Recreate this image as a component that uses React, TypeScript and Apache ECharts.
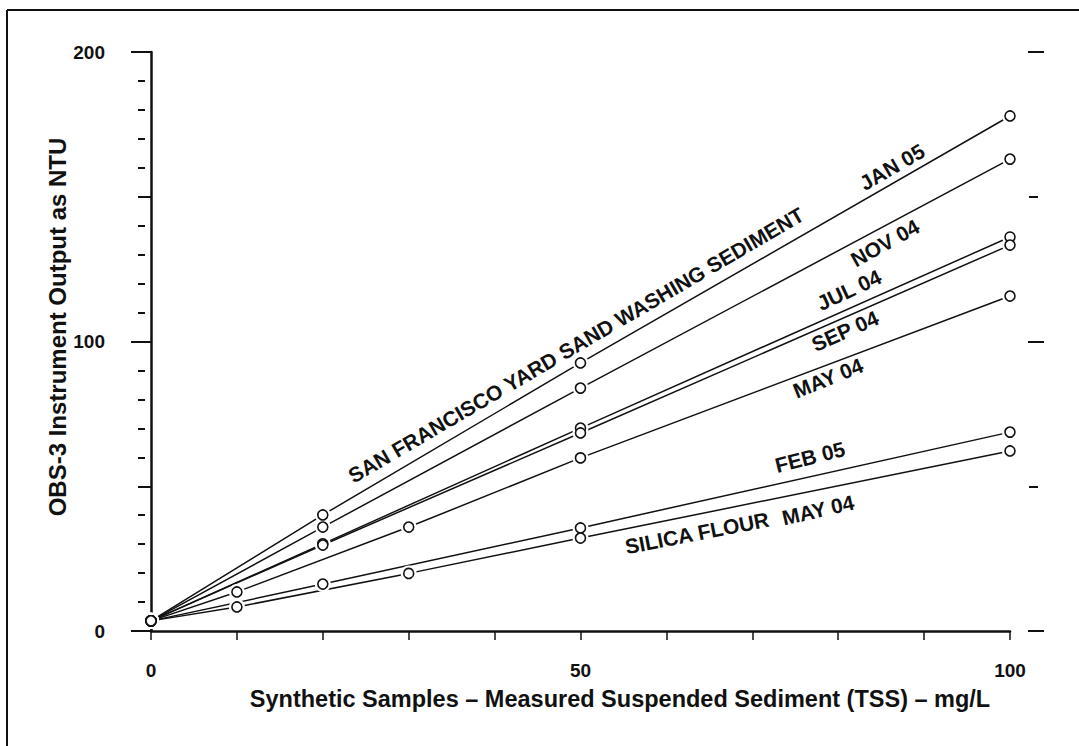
import React, { useEffect, useRef } from "react";
import * as echarts from "echarts";

// ---- data ----
const xTickValues = [0, 10, 20, 30, 40, 50, 60, 70, 80, 90, 100];
const xLabelValues = [0, 50, 100];
const yLabelValues = [0, 100, 200];
const yLongTicks = [0, 100, 200];
const yShortTicks = [50, 150];
const yMinorTicks = [10, 20, 30, 40, 60, 70, 80, 90, 110, 120, 130, 140, 160, 170, 180, 190];

const jan05: [number, number][] = [[0, 3.5], [20, 40.1], [50, 92.6], [100, 177.9]];
const nov04: [number, number][] = [[0, 3.5], [20, 35.9], [50, 83.9], [100, 163.0]];
const jul04: [number, number][] = [[0, 3.5], [20, 30.1], [50, 70.1], [100, 136.1]];
const sep04: [number, number][] = [[0, 3.5], [20, 29.7], [50, 68.4], [100, 133.3]];
const may04Sand: [number, number][] = [[0, 3.5], [10, 13.5], [30, 35.9], [50, 59.8], [100, 115.7]];
const feb05: [number, number][] = [[0, 3.5], [20, 16.2], [50, 35.6], [100, 68.7]];
const may04Silica: [number, number][] = [[0, 3.5], [10, 8.3], [30, 19.9], [50, 32.1], [100, 62.2]];

const seriesList = [
  { name: "JAN 05", data: jan05 },
  { name: "NOV 04", data: nov04 },
  { name: "JUL 04", data: jul04 },
  { name: "SEP 04", data: sep04 },
  { name: "MAY 04 (sand)", data: may04Sand },
  { name: "FEB 05", data: feb05 },
  { name: "MAY 04 (silica)", data: may04Silica },
];

const FONT = "'Liberation Sans', Arial, sans-serif";
const INK = "#111";

export default function App() {
  const ref = useRef<HTMLDivElement>(null);
  useEffect(() => {
    if (!ref.current) return;
    const chart = echarts.init(ref.current, undefined, { renderer: "svg" });
    const grid = { left: 151, right: 69, top: 52, bottom: 115 };
    const yBase = { type: "value", min: 0, max: 200, splitLine: { show: false } };
    const series: any[] = [];
    seriesList.forEach((s) => {
      series.push({
        type: "line",
        name: s.name,
        data: s.data,
        showSymbol: false,
        symbol: "none",
        lineStyle: { color: INK, width: 1.5 },
        z: 2,
        silent: true,
      });
    });
    seriesList.forEach((s) => {
      series.push({
        type: "scatter",
        data: s.data,
        symbol: "circle",
        symbolSize: 16,
        itemStyle: { color: "#fff", opacity: 1 },
        z: 3,
        silent: true,
      });
    });
    seriesList.forEach((s) => {
      series.push({
        type: "scatter",
        data: s.data,
        symbol: "circle",
        symbolSize: 10,
        itemStyle: { color: "#fff", borderColor: INK, borderWidth: 1.6, opacity: 1 },
        z: 4,
        silent: true,
      });
    });

    const lbl = (text: string, x: number, y: number, deg: number, size = 21) => ({
      type: "text",
      x,
      y,
      rotation: (deg * Math.PI) / 180,
      style: {
        text,
        fill: INK,
        font: `bold ${size}px ${FONT}`,
        textAlign: "center",
        textVerticalAlign: "middle",
      },
      z: 10,
    });

    chart.setOption({
      animation: false,
      backgroundColor: "#fff",
      grid,
      xAxis: [
        {
          type: "value",
          min: 0,
          max: 100,
          splitLine: { show: false },
          axisLine: { show: true, onZero: false, lineStyle: { color: INK, width: 2.5 } },
          axisTick: { show: false },
          axisLabel: {
            customValues: xLabelValues,
            margin: 30,
            color: INK,
            fontFamily: FONT,
            fontWeight: "bold",
            fontSize: 19,
          },
        },
        {
          type: "value",
          min: 0,
          max: 100,
          position: "bottom",
          offset: 7,
          splitLine: { show: false },
          axisLine: { show: false },
          axisTick: { show: true, customValues: xTickValues, length: 9, lineStyle: { color: INK, width: 1.5 } },
          axisLabel: { show: false },
        },
      ],
      yAxis: [
        {
          ...yBase,
          position: "left",
          axisLine: { show: true, onZero: false, lineStyle: { color: INK, width: 2.5 } },
          axisTick: { show: false },
          axisLabel: {
            customValues: yLabelValues,
            margin: 46,
            color: INK,
            fontFamily: FONT,
            fontWeight: "bold",
            fontSize: 19,
          },
        },
        {
          ...yBase,
          position: "left",
          offset: 8,
          axisLine: { show: false },
          axisTick: { show: true, customValues: yLongTicks, length: 20, lineStyle: { color: INK, width: 2 } },
          axisLabel: { show: false },
        },
        {
          ...yBase,
          position: "left",
          offset: 7,
          axisLine: { show: false },
          axisTick: { show: true, customValues: yShortTicks, length: 13, lineStyle: { color: INK, width: 2 } },
          axisLabel: { show: false },
        },
        {
          ...yBase,
          position: "left",
          offset: 6,
          axisLine: { show: false },
          axisTick: { show: true, customValues: yMinorTicks, length: 7, lineStyle: { color: INK, width: 2 } },
          axisLabel: { show: false },
        },
        {
          ...yBase,
          position: "right",
          offset: 18,
          axisLine: { show: false },
          axisTick: { show: true, customValues: yLongTicks, length: 16, lineStyle: { color: INK, width: 2 } },
          axisLabel: { show: false },
        },
        {
          ...yBase,
          position: "right",
          offset: 19,
          axisLine: { show: false },
          axisTick: { show: true, customValues: yShortTicks, length: 9, lineStyle: { color: INK, width: 2 } },
          axisLabel: { show: false },
        },
      ],
      series,
      graphic: [
        { type: "line", shape: { x1: 7, y1: 10, x2: 1079, y2: 10 }, style: { stroke: INK, lineWidth: 2 } },
        { type: "line", shape: { x1: 7, y1: 10, x2: 7, y2: 746 }, style: { stroke: INK, lineWidth: 2 } },
        {
          type: "text",
          x: 620,
          y: 699,
          style: {
            text: "Synthetic Samples \u2013 Measured Suspended Sediment (TSS) \u2013 mg/L",
            fill: INK,
            font: `bold 23.5px ${FONT}`,
            textAlign: "center",
            textVerticalAlign: "middle",
          },
        },
        {
          type: "text",
          x: 57,
          y: 327,
          rotation: Math.PI / 2,
          style: {
            text: "OBS-3 Instrument Output as NTU",
            fill: INK,
            font: `bold 24px ${FONT}`,
            textAlign: "center",
            textVerticalAlign: "middle",
          },
        },
        lbl("SAN FRANCISCO YARD SAND WASHING SEDIMENT", 576, 345, 30.3),
        lbl("JAN 05", 892, 167, 30),
        lbl("NOV 04", 885, 243, 29),
        lbl("JUL 04", 849, 290, 25),
        lbl("SEP 04", 845, 331, 24),
        lbl("MAY 04", 828, 378, 22),
        lbl("FEB 05", 810, 457, 14),
        lbl("MAY 04", 818, 510, 13),
        lbl("SILICA FLOUR", 697, 533, 11),
      ],
    });
    return () => chart.dispose();
  }, []);
  return (
    <div
      ref={ref}
      style={{ position: "fixed", left: 0, top: 0, width: 1079, height: 746, background: "#fff" }}
    />
  );
}
